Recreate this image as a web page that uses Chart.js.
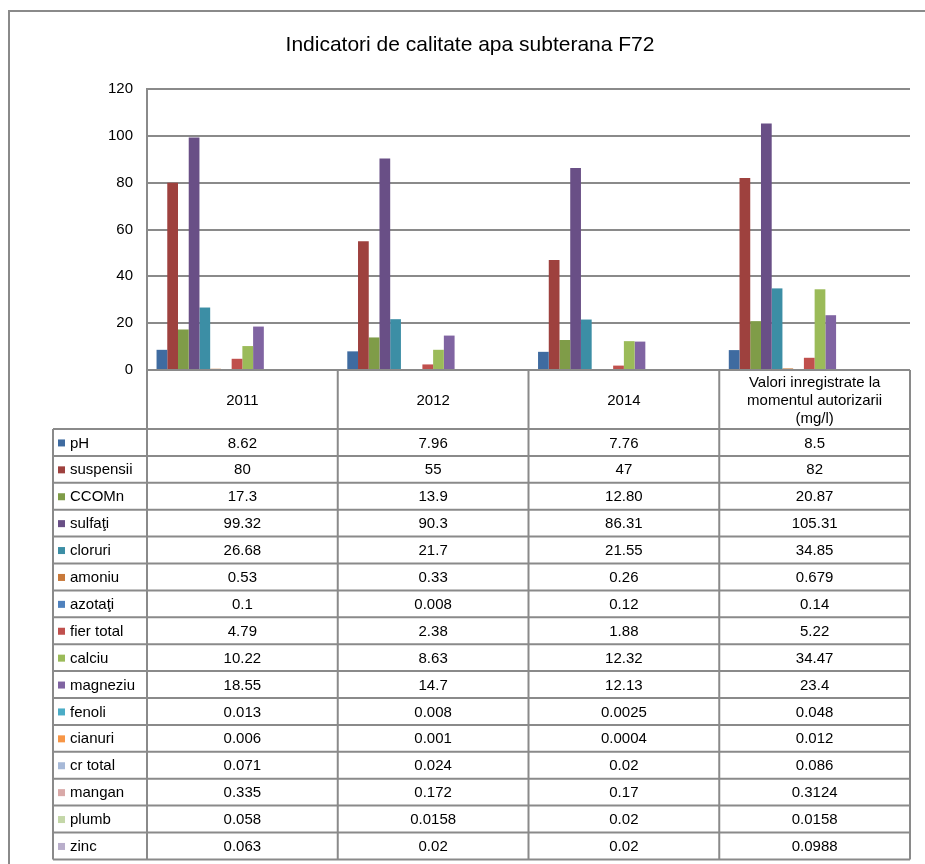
<!DOCTYPE html>
<html>
<head>
<meta charset="utf-8">
<title>Indicatori de calitate apa subterana F72</title>
<script src="https://cdn.jsdelivr.net/npm/chart.js@4/dist/chart.umd.min.js"></script>
<style>
  html, body { margin: 0; padding: 0; background: #fff; overflow: hidden; }
  #wrap { position: relative; width: 925px; height: 864px; }
</style>
</head>
<body>
<div id="wrap"><canvas id="chart" width="925" height="864"></canvas></div>
<script>
// columns of the data table / x categories
var categories = ['2011', '2012', '2014', ['Valori inregistrate la', 'momentul autorizarii', '(mg/l)']];

// indicators (one bar series each)
var indicators = ['pH', 'suspensii', 'CCOMn', 'sulfaţi', 'cloruri', 'amoniu', 'azotaţi', 'fier total',
  'calciu', 'magneziu', 'fenoli', 'cianuri', 'cr total', 'mangan', 'plumb', 'zinc'];

// values as printed in the table, one array per column
var values2011 = ['8.62', '80', '17.3', '99.32', '26.68', '0.53', '0.1', '4.79',
  '10.22', '18.55', '0.013', '0.006', '0.071', '0.335', '0.058', '0.063'];
var values2012 = ['7.96', '55', '13.9', '90.3', '21.7', '0.33', '0.008', '2.38',
  '8.63', '14.7', '0.008', '0.001', '0.024', '0.172', '0.0158', '0.02'];
var values2014 = ['7.76', '47', '12.80', '86.31', '21.55', '0.26', '0.12', '1.88',
  '12.32', '12.13', '0.0025', '0.0004', '0.02', '0.17', '0.02', '0.02'];
var valuesAutorizare = ['8.5', '82', '20.87', '105.31', '34.85', '0.679', '0.14', '5.22',
  '34.47', '23.4', '0.048', '0.012', '0.086', '0.3124', '0.0158', '0.0988'];

var yTicks = [0, 20, 40, 60, 80, 100, 120];

var seriesColors = [
  '#3F6BA0', '#9E413E', '#7F9C48', '#694F86', '#3C8EA5', '#C8793A',
  '#4F81BD', '#C0504D', '#9BBB59', '#8064A2', '#4BACC6', '#F79646',
  '#A7B9D8', '#D9A9A8', '#C4D7A8', '#B9AECB'
];

var columns = [values2011, values2012, values2014, valuesAutorizare];

var datasets = indicators.map(function (name, i) {
  return {
    label: name,
    data: columns.map(function (col) { return parseFloat(col[i]); }),
    backgroundColor: seriesColors[i],
    borderWidth: 0,
    categoryPercentage: 0.9,
    barPercentage: 1.0
  };
});

var FONT = '"Liberation Sans", Arial, sans-serif';
var LINE = '#8a8a8a';

// frame, title and the data table under the plot
var tablePlugin = {
  id: 'dataTable',
  beforeDraw: function (chart) {
    var ctx = chart.ctx;
    ctx.save();
    ctx.fillStyle = '#fff';
    ctx.fillRect(0, 0, chart.width, chart.height);
    ctx.strokeStyle = LINE;
    ctx.lineWidth = 2;
    ctx.beginPath();
    ctx.moveTo(9, chart.height);
    ctx.lineTo(9, 11);
    ctx.lineTo(chart.width, 11);
    ctx.stroke();
    ctx.fillStyle = '#000';
    ctx.font = '21px ' + FONT;
    ctx.textAlign = 'center';
    ctx.textBaseline = 'middle';
    ctx.fillText('Indicatori de calitate apa subterana F72', 470, 45);
    ctx.restore();
  },
  afterDraw: function (chart) {
    var ctx = chart.ctx;
    var area = chart.chartArea;
    var xs = chart.scales.x;
    var n = categories.length;
    var colW = (area.right - area.left) / n;
    var top = area.bottom;
    var headH = 59;
    var rowH = 26.9;
    var legL = 53;
    var bottom = top + headH + rowH * indicators.length;

    ctx.save();
    ctx.strokeStyle = LINE;
    ctx.lineWidth = 2;
    ctx.beginPath();
    // vertical lines
    for (var c = 0; c <= n; c++) {
      var x = area.left + c * colW;
      ctx.moveTo(x, top);
      ctx.lineTo(x, bottom);
    }
    ctx.moveTo(legL, top + headH);
    ctx.lineTo(legL, bottom);
    // horizontal lines
    ctx.moveTo(area.left, top);
    ctx.lineTo(area.right, top);
    for (var r = 0; r <= indicators.length; r++) {
      var y = top + headH + r * rowH;
      ctx.moveTo(legL, y);
      ctx.lineTo(area.right, y);
    }
    ctx.stroke();

    ctx.fillStyle = '#000';
    ctx.font = '15px ' + FONT;
    ctx.textBaseline = 'middle';
    ctx.textAlign = 'center';
    // header
    categories.forEach(function (cat, i) {
      var cx = xs.getPixelForValue(i);
      var lines = Array.isArray(cat) ? cat : [cat];
      var lh = 18;
      var y0 = top + headH / 2 + 1 - (lines.length - 1) * lh / 2;
      lines.forEach(function (t, k) { ctx.fillText(t, cx, y0 + k * lh); });
    });
    // rows
    indicators.forEach(function (name, r) {
      var cy = top + headH + r * rowH + rowH / 2 + 1;
      ctx.fillStyle = seriesColors[r];
      ctx.fillRect(legL + 5, cy - 4, 7, 7);
      ctx.fillStyle = '#000';
      ctx.textAlign = 'left';
      ctx.fillText(name, legL + 17, cy);
      ctx.textAlign = 'center';
      columns.forEach(function (col, i) {
        ctx.fillText(col[r], xs.getPixelForValue(i), cy);
      });
    });
    ctx.restore();
  }
};

new Chart(document.getElementById('chart'), {
  type: 'bar',
  data: { labels: categories, datasets: datasets },
  plugins: [tablePlugin],
  options: {
    responsive: false,
    animation: false,
    devicePixelRatio: 1,
    layout: { padding: { left: 0, right: 15, top: 89, bottom: 486 } },
    plugins: {
      legend: { display: false },
      title: { display: false },
      tooltip: { enabled: false }
    },
    scales: {
      x: {
        ticks: { display: false },
        grid: { display: false },
        border: { display: false }
      },
      y: {
        min: 0,
        max: 120,
        afterFit: function (scale) { scale.width = 147; },
        afterBuildTicks: function (scale) {
          scale.ticks = yTicks.map(function (v) { return { value: v }; });
        },
        ticks: {
          padding: 14,
          color: '#000',
          font: { family: FONT, size: 15 }
        },
        grid: { color: LINE, lineWidth: 2, drawTicks: false },
        border: { color: LINE, width: 2 }
      }
    }
  }
});
</script>
</body>
</html>
